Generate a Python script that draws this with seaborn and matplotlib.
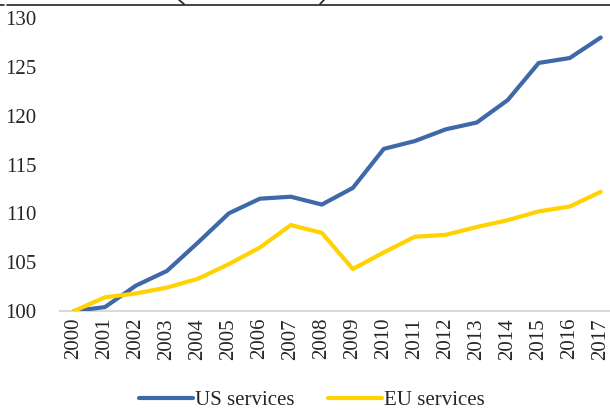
import matplotlib
matplotlib.use("Agg")
import matplotlib.pyplot as plt
from matplotlib.lines import Line2D
import seaborn as sns
import pandas as pd

# data (index, 2000 = 100)
years = list(range(2000, 2018))
us_services = [100, 100.4, 102.6, 104.1, 107.0, 110.0, 111.5, 111.7, 110.9, 112.6,
               116.6, 117.4, 118.6, 119.3, 121.6, 125.4, 125.9, 128.0]
eu_services = [100, 101.4, 101.8, 102.4, 103.3, 104.8, 106.5, 108.8, 108.0, 104.3,
               106.0, 107.6, 107.8, 108.6, 109.3, 110.2, 110.7, 112.2]
series_names = ["US services", "EU services"]
y_ticks = [100, 105, 110, 115, 120, 125, 130]

df = pd.DataFrame({
    "pos": list(range(len(years))) * 2,
    "value": us_services + eu_services,
    "series": [series_names[0]] * len(years) + [series_names[1]] * len(years),
})

sns.set_style("white")
plt.rcParams["font.family"] = ["Liberation Serif", "DejaVu Serif"]

fig = plt.figure(figsize=(6.1, 4.12), dpi=100)
ax = fig.add_axes([60 / 610, 101 / 412, 550 / 610, 293 / 412])

sns.lineplot(data=df, x="pos", y="value", hue="series", hue_order=series_names,
             palette=["#3E68A8", "#FFD200"], linewidth=3.0, ax=ax,
             solid_capstyle="round", solid_joinstyle="round")

ax.set_xlim(-0.45, 17.3)
ax.set_ylim(100, 130)
ax.set_yticks(y_ticks)
ax.set_yticklabels([str(t) for t in y_ticks], fontsize=15)
ax.set_xticks(range(len(years)))
ax.set_xticklabels([str(y) for y in years], rotation=90, fontsize=15)
ax.tick_params(axis="y", length=0, pad=17)
ax.tick_params(axis="x", length=0, pad=5)
ax.set_xlabel("")
ax.set_ylabel("")
for s in ["top", "right", "left"]:
    ax.spines[s].set_visible(False)
ax.spines["bottom"].set_color("#D9D9D9")
ax.spines["bottom"].set_linewidth(1.5)
ax.spines["bottom"].set_zorder(0)

ax.legend(loc="center", bbox_to_anchor=(312 / 610, 12 / 412),
          bbox_transform=fig.transFigure, ncol=2, frameon=False,
          fontsize=15, handlelength=2.6, handletextpad=0.1, columnspacing=1.6)

# remains of the cropped title frame above the chart
def px(x, y):
    return x / 610, 1 - y / 412

top_y = 5
fig.add_artist(Line2D([px(7, 0)[0], 1], [px(0, top_y)[1]] * 2, color="#222222",
                      lw=1.2, transform=fig.transFigure))
fig.add_artist(Line2D([0, px(4, 0)[0]], [px(0, top_y)[1]] * 2, color="#222222",
                      lw=1.2, transform=fig.transFigure))
for (x0, y0), (x1, y1) in [((179, 0), (184, 4)), ((324, 0), (320, 4))]:
    fig.add_artist(Line2D([px(x0, y0)[0], px(x1, y1)[0]], [px(x0, y0)[1], px(x1, y1)[1]],
                          color="#222222", lw=1.2, transform=fig.transFigure))

fig.savefig("out.png", dpi=100)
